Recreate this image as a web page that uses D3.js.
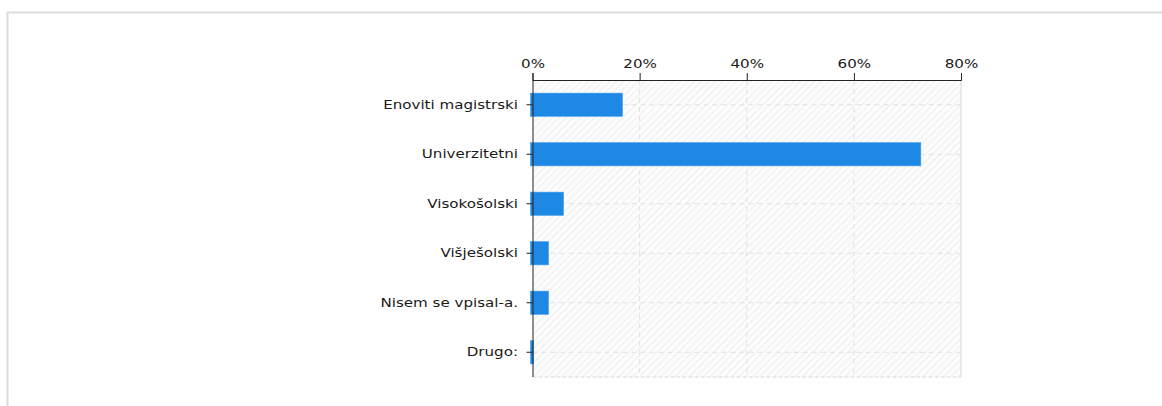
<!DOCTYPE html>
<meta charset="utf-8">
<style>
  body { margin: 0; background: #fff; }
  .axis text { font: 12px "DejaVu Sans", Verdana, sans-serif; fill: #1a1a1a; }
  .axis .domain { stroke: #222; }
  .axis line { stroke: #222; }
</style>
<svg class="chart" width="1162" height="406"></svg>
<script src="https://d3js.org/d3.v7.min.js"></script>
<script>
// answer categories and shares (percent of respondents)
var categories = ["Enoviti magistrski", "Univerzitetni", "Visokošolski", "Višješolski", "Nisem se vpisal-a.", "Drugo:"];
var shares = [16.8, 72.5, 5.8, 3.0, 3.0, 0.2];
var tickValues = [0, 20, 40, 60, 80];

var svg = d3.select("svg"),
    margin = {top: 80, left: 532.5},
    width = 428.5,
    height = 297,
    textStretch = 1.26;

// outer frame
svg.append("path")
    .attr("d", "M7.5,406V12.5H1162")
    .attr("fill", "none")
    .attr("stroke", "#dcdcdc")
    .attr("stroke-width", 2);

var defs = svg.append("defs");
var pat = defs.append("pattern")
    .attr("id", "hatch")
    .attr("patternUnits", "userSpaceOnUse")
    .attr("width", 5).attr("height", 5)
    .attr("patternTransform", "rotate(45)");
pat.append("rect").attr("width", 5).attr("height", 5).attr("fill", "#fcfcfc");
pat.append("line").attr("x1", 0).attr("y1", 0).attr("x2", 0).attr("y2", 5)
    .attr("stroke", "#e6e6e6").attr("stroke-width", 1.2);

var g = svg.append("g").attr("transform", "translate(" + margin.left + "," + margin.top + ")");

var x = d3.scaleLinear().domain([0, 80]).range([0, width]);
var y = d3.scaleBand().domain(categories).range([0, height]).paddingInner(0.53).paddingOuter(0.265);

g.append("rect")
    .attr("width", width).attr("height", height)
    .attr("fill", "url(#hatch)");

// grid
g.selectAll(".vgrid").data(tickValues.slice(1, -1)).enter().append("line")
    .attr("x1", d => x(d)).attr("x2", d => x(d))
    .attr("y1", 0).attr("y2", height)
    .attr("stroke", "#e0e0e0").attr("stroke-dasharray", "5,4");
g.selectAll(".hgrid").data(categories).enter().append("line")
    .attr("x1", 0).attr("x2", width)
    .attr("y1", d => y(d) + y.bandwidth() / 2).attr("y2", d => y(d) + y.bandwidth() / 2)
    .attr("stroke", "#e0e0e0").attr("stroke-dasharray", "5,4");
g.append("line")
    .attr("x1", 0).attr("x2", width).attr("y1", height).attr("y2", height)
    .attr("stroke", "#d8d8d8").attr("stroke-dasharray", "4,2");
g.append("line")
    .attr("x1", width).attr("x2", width).attr("y1", 0).attr("y2", height)
    .attr("stroke", "#d8d8d8");

// bars
g.selectAll(".bar").data(shares).enter().append("rect")
    .attr("x", -2)
    .attr("y", (d, i) => y(categories[i]))
    .attr("width", d => x(d) + 2)
    .attr("height", y.bandwidth())
    .attr("fill", "#1e88e5")
    .attr("stroke", "#4aa0ec")
    .attr("stroke-width", 0.6);

// top axis
var xAxis = g.append("g").attr("class", "axis")
    .call(d3.axisTop(x).tickValues(tickValues).tickFormat(d => d + "%").tickSize(7).tickSizeOuter(7));
xAxis.selectAll(".tick text")
    .attr("x", 0)
    .attr("y", -12)
    .attr("transform", "scale(" + textStretch + ",1)");

// left axis
var yAxis = g.append("g").attr("class", "axis")
    .call(d3.axisLeft(y).tickSize(6).tickSizeOuter(0));
yAxis.select(".domain").attr("d", "M0.5," + height + "V0");
yAxis.selectAll(".tick text")
    .attr("x", -14.5 / textStretch)
    .attr("transform", "scale(" + textStretch + ",1)");
</script>
